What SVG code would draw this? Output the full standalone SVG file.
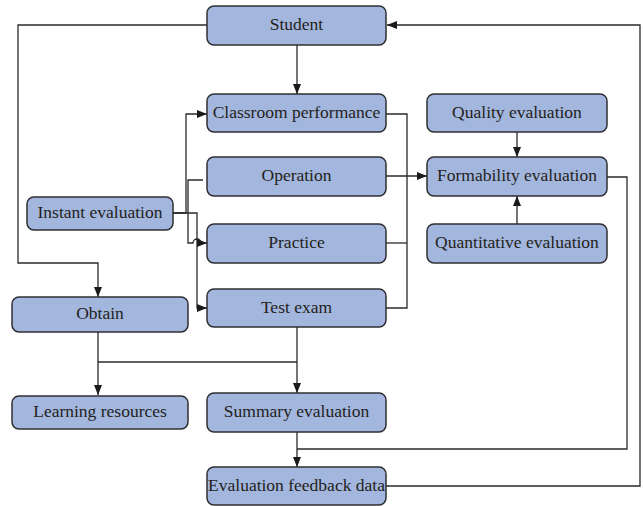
<svg xmlns="http://www.w3.org/2000/svg" width="643" height="506" viewBox="0 0 643 506">
<style>
.n rect{fill:#a3b6dd;stroke:#2f2f33;stroke-width:1.5}
.n text{font-family:"Liberation Serif","Times New Roman",serif;font-size:17.5px;fill:#231f20;text-anchor:middle}
.c path{fill:none;stroke:#2a2a2a;stroke-width:1.3}
</style>
<defs>
<marker id="ar" markerUnits="userSpaceOnUse" markerWidth="10" markerHeight="10" viewBox="0 0 10 10" refX="10" refY="5" orient="auto">
<path d="M0,1 L10,5 L0,9 z" fill="#1a1a1a"/>
</marker>
</defs>
<g class="c" id="connectors">
<path d="M297 45 V94" marker-end="url(#ar)"/>
<path d="M207 25 H18 V263 H98 V297" marker-end="url(#ar)"/>
<path d="M386 486 H640 V25 H387" marker-end="url(#ar)"/>
<path d="M173 213 H186 V114 H207" marker-end="url(#ar)"/>
<path d="M173 213 H197 V308 H207" marker-end="url(#ar)"/>
<path d="M203 180 H188 V243 H193 A4 4 0 0 1 201 243 H207" marker-end="url(#ar)"/>
<path d="M386 114 H407 V308 H386"/>
<path d="M386 243 H407"/>
<path d="M386 176 H427" marker-end="url(#ar)"/>
<path d="M517 132 V157" marker-end="url(#ar)"/>
<path d="M517 225 V196" marker-end="url(#ar)"/>
<path d="M607 177 H627 V449 H297"/>
<path d="M297 432 V467" marker-end="url(#ar)"/>
<path d="M98 332 V395" marker-end="url(#ar)"/>
<path d="M98 362 H297"/>
<path d="M297 327 V393" marker-end="url(#ar)"/>
</g>
<g class="n" id="student"><rect x="207" y="6" width="179" height="39" rx="7"/><text x="296.5" y="29.5">Student</text></g>
<g class="n" id="classroom"><rect x="207" y="94" width="179" height="38" rx="7"/><text x="296.5" y="117.5">Classroom performance</text></g>
<g class="n" id="operation"><rect x="207" y="157" width="179" height="39" rx="7"/><text x="296.5" y="180.5">Operation</text></g>
<g class="n" id="practice"><rect x="207" y="224" width="179" height="39" rx="7"/><text x="296.5" y="247.5">Practice</text></g>
<g class="n" id="test"><rect x="207" y="289" width="179" height="38" rx="7"/><text x="296.5" y="312.5">Test exam</text></g>
<g class="n" id="quality"><rect x="427" y="94" width="180" height="38" rx="7"/><text x="517" y="117.5">Quality evaluation</text></g>
<g class="n" id="formability"><rect x="427" y="157" width="180" height="39" rx="7"/><text x="517" y="180.5">Formability evaluation</text></g>
<g class="n" id="quantitative"><rect x="427" y="224" width="180" height="39" rx="7"/><text x="517" y="247.5">Quantitative evaluation</text></g>
<g class="n" id="instant"><rect x="27" y="197" width="146" height="33" rx="7"/><text x="100" y="217.5">Instant evaluation</text></g>
<g class="n" id="obtain"><rect x="12" y="297" width="176" height="35" rx="7"/><text x="100" y="318.5">Obtain</text></g>
<g class="n" id="learning"><rect x="12" y="396" width="176" height="33" rx="7"/><text x="100" y="416.5">Learning resources</text></g>
<g class="n" id="summary"><rect x="207" y="393" width="179" height="39" rx="7"/><text x="296.5" y="416.5">Summary evaluation</text></g>
<g class="n" id="feedback"><rect x="207" y="467" width="179" height="38" rx="7"/><text x="296.5" y="490.5">Evaluation feedback data</text></g>
</svg>
